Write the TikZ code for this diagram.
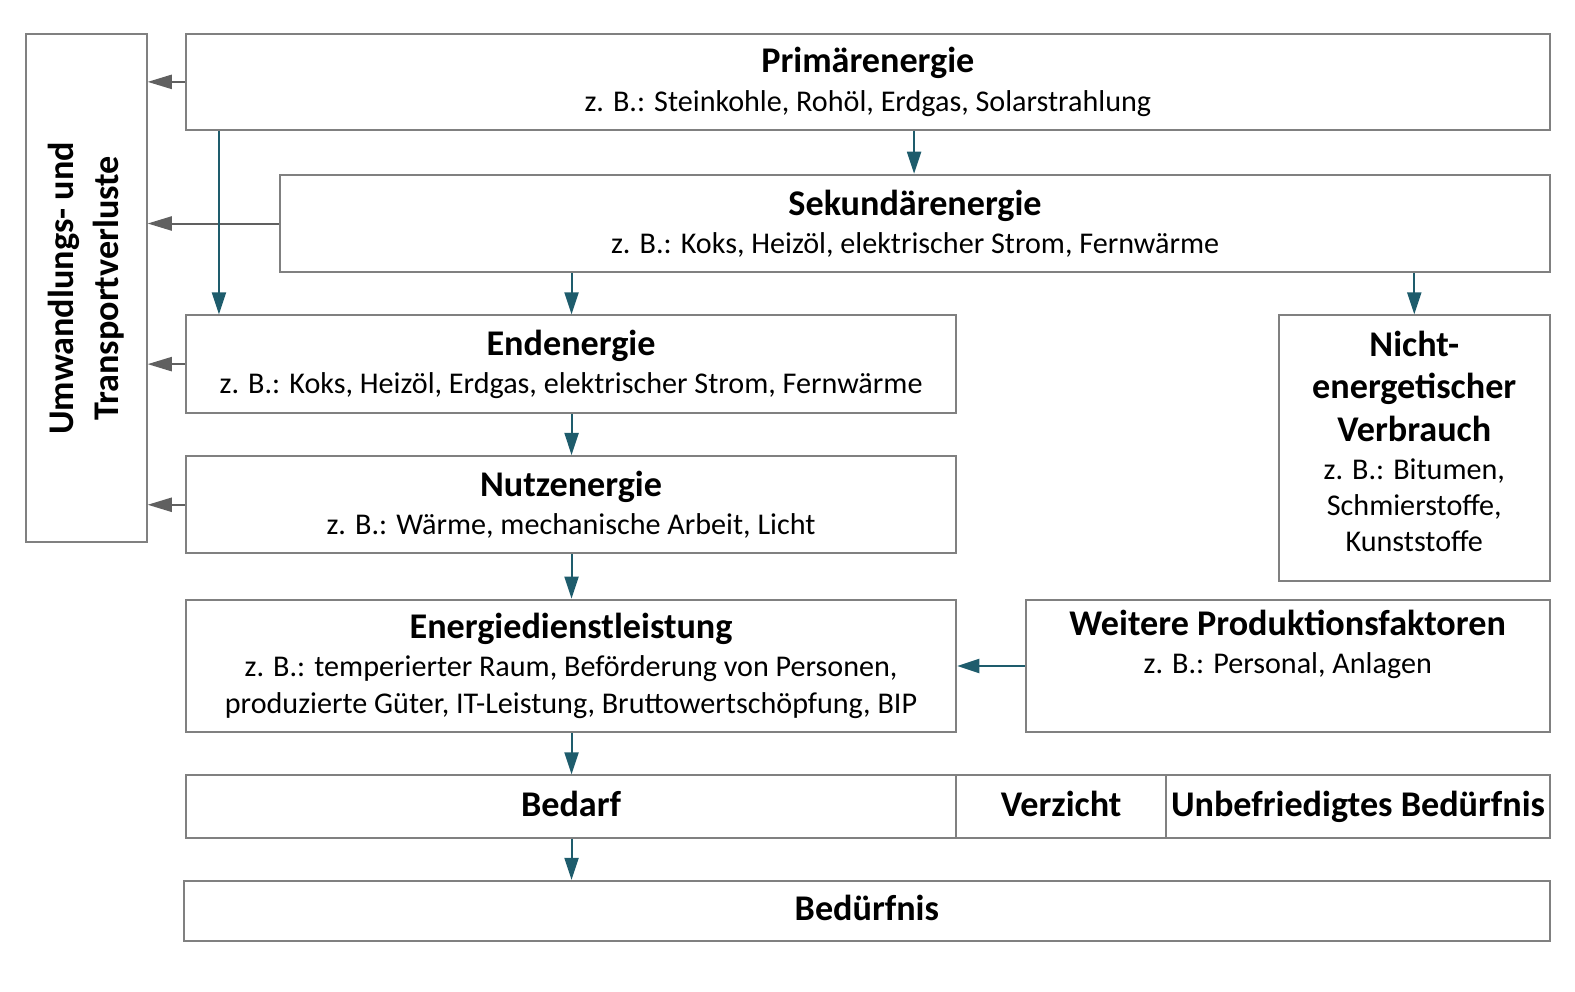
\documentclass[tikz,border=0pt]{standalone}
\usepackage{fontspec}
\setmainfont{Carlito}
\usetikzlibrary{arrows.meta}
\definecolor{petrol}{RGB}{30,92,108}
\definecolor{rahmen}{RGB}{128,128,128}
\definecolor{verlust}{RGB}{96,96,96}
\newcommand\ttl[1]{{\fontsize{18}{21}\selectfont\bfseries #1}}

\begin{document}
\begin{tikzpicture}[x=.5pt,y=-.5pt,
  box/.style={draw=rahmen,line width=1pt,inner sep=0pt,anchor=north west,align=center,
    font=\fontsize{15}{18.5}\selectfont},
  tarr/.style={draw=petrol,line width=1pt,-{Triangle[length=11pt,width=7pt]}},
  garr/.style={draw=verlust,line width=1pt,-{Triangle[length=12pt,width=7pt]}}]
\useasboundingbox (0,0) rectangle (1568,987);
% Kaestchen
\node[box,minimum width=60pt,minimum height=253pt] (loss) at (25,33) {};
\node[rotate=90,align=center,font=\fontsize{18}{22.5}\selectfont\bfseries] (losstxt) at (loss.center)
  {Umwandlungs- und\\Transportverluste};
\node[box,minimum width=679pt,minimum height=47.5pt] (prim) at (184,33)
  {\ttl{Primärenergie}\\[0.5pt]z. B.: Steinkohle, Rohöl, Erdgas, Solarstrahlung};
\node[box,minimum width=632pt,minimum height=48.5pt] (sek) at (278,173)
  {\ttl{Sekundärenergie}\\[0.5pt]z. B.: Koks, Heizöl, elektrischer Strom, Fernwärme};
\node[box,minimum width=383.5pt,minimum height=48.5pt] (end) at (184,313)
  {\ttl{Endenergie}\\[0.5pt]z. B.: Koks, Heizöl, Erdgas, elektrischer Strom, Fernwärme};
\node[box,minimum width=135pt,minimum height=132pt] (nicht) at (1272,313)
  {\ttl{Nicht-}\\[2.5pt]\ttl{energetischer}\\[2.5pt]\ttl{Verbrauch}\\[0.5pt]z. B.: Bitumen,\\[-0.5pt]Schmierstoffe,\\[-0.5pt]Kunststoffe\\[-12pt]};
\node[box,minimum width=383.5pt,minimum height=48.5pt] (nutz) at (184,453)
  {\ttl{Nutzenergie}\\[0.5pt]z. B.: Wärme, mechanische Arbeit, Licht};
\node[box,minimum width=383.5pt,minimum height=66pt] (edl) at (184,596)
  {\ttl{Energiedienstleistung}\\[0.5pt]z. B.: temperierter Raum, Beförderung von Personen,\\produzierte Güter, IT-Leistung, Bruttowertschöpfung, BIP};
\node[box,minimum width=261pt,minimum height=66pt] (weit) at (1020,596)
  {\ttl{Weitere Produktionsfaktoren}\\[0.5pt]z. B.: Personal, Anlagen\\\strut};
\node[box,minimum width=383.5pt,minimum height=31pt] (bedarf) at (184,771) {\ttl{\vphantom{Bdg}Bedarf}};
\node[box,minimum width=104.5pt,minimum height=31pt] (verz) at (951,771) {\ttl{\vphantom{Bdg}Verzicht}};
\node[box,minimum width=191pt,minimum height=31pt] (unbef) at (1160,771) {\ttl{\vphantom{Bdg}Unbefriedigtes Bedürfnis}};
\node[box,minimum width=680pt,minimum height=30pt] (beduerf) at (182,876) {\ttl{\vphantom{Bdg}Bedürfnis}};
% Verluste
\draw[garr] (prim.west) -- (loss.east |- prim.west);
\draw[garr] (sek.west) -- (loss.east |- sek.west);
\draw[garr] (end.west) -- (loss.east |- end.west);
\draw[garr] (nutz.west) -- (loss.east |- nutz.west);
% Energiefluss
\draw[tarr] (218,0 |- prim.south) -- (218,0 |- end.north);
\draw[tarr] (910,0 |- prim.south) -- (910,0 |- sek.north);
\draw[tarr] (569,0 |- sek.south) -- (569,0 |- end.north);
\draw[tarr] (1408,0 |- sek.south) -- (1408,0 |- nicht.north);
\draw[tarr] (569,0 |- end.south) -- (569,0 |- nutz.north);
\draw[tarr] (569,0 |- nutz.south) -- (569,0 |- edl.north);
\draw[tarr] (weit.west) -- (edl.east |- weit.west);
\draw[tarr] (569,0 |- edl.south) -- (569,0 |- bedarf.north);
\draw[tarr] (569,0 |- bedarf.south) -- (569,0 |- beduerf.north);
\end{tikzpicture}
\end{document}
